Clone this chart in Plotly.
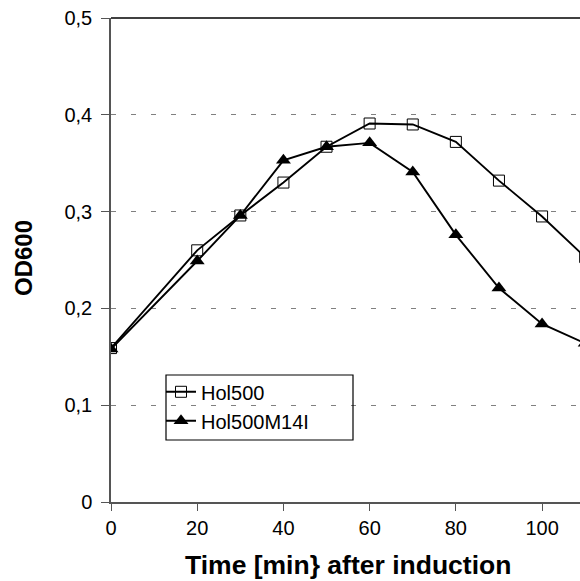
import plotly.graph_objects as go

time_min = [0, 20, 30, 40, 50, 60, 70, 80, 90, 100, 110]
hol500 = [0.159, 0.260, 0.296, 0.330, 0.367, 0.391, 0.390, 0.372, 0.332, 0.295, 0.253]
hol500m14i = [0.158, 0.249, 0.296, 0.353, 0.367, 0.371, 0.341, 0.276, 0.221, 0.184, 0.164]
names = ["Hol500", "Hol500M14I"]
x_ticks = [0, 20, 40, 60, 80, 100]
y_ticks = [0, 0.1, 0.2, 0.3, 0.4, 0.5]

FONT = "Arial, Liberation Sans, sans-serif"

fig = go.Figure()
fig.add_trace(go.Scatter(
    x=time_min, y=hol500, name=names[0], mode="lines+markers",
    line=dict(color="black", width=1.9),
    marker=dict(symbol="square-open", size=11, color="black", line=dict(width=1, color="black")),
))
fig.add_trace(go.Scatter(
    x=time_min, y=hol500m14i, name=names[1], mode="lines+markers",
    line=dict(color="black", width=1.9),
    marker=dict(symbol="triangle-up", size=13, color="black"),
))

fig.update_layout(
    width=580, height=581,
    margin=dict(l=111, r=0, t=18, b=79),
    plot_bgcolor="white", paper_bgcolor="white",
    separators=",.",
    font=dict(family=FONT, size=20, color="black"),
    showlegend=True,
    legend=dict(
        x=(161 - 111) / 469, y=0.268, xanchor="left", yanchor="top",
        bgcolor="rgba(0,0,0,0)", borderwidth=0,
        font=dict(family=FONT, size=20, color="black"),
        itemwidth=30, tracegroupgap=0,
    ),
    shapes=[
        dict(type="line", xref="paper", yref="paper", x0=0, x1=1, y0=1, y1=1,
             line=dict(color="black", width=1.5)),
        dict(type="rect", xref="paper", yref="paper",
             x0=(166 - 111) / 469, x1=(353 - 111) / 469,
             y0=(502 - 440) / 484, y1=(502 - 375) / 484,
             line=dict(color="black", width=1.2), fillcolor="rgba(0,0,0,0)"),
    ],
    annotations=[
        dict(text="<b>Time [min} after induction</b>", xref="paper", yref="paper",
             x=0.505, y=(502 - 565) / 484, xanchor="center", yanchor="middle",
             showarrow=False, font=dict(family=FONT, size=26.5, color="black")),
        dict(text="<b>OD600</b>", xref="paper", yref="paper",
             x=(23 - 111) / 469, y=(502 - 258) / 484, xanchor="center", yanchor="middle",
             textangle=-90, showarrow=False, font=dict(family=FONT, size=24, color="black")),
    ],
)

fig.update_xaxes(
    range=[0, 108.8], tickvals=x_ticks, ticks="outside", ticklen=7, tickwidth=1.2,
    tickcolor="#555555", showline=True, linecolor="#555555", linewidth=1.5,
    showgrid=False, zeroline=False, tickfont=dict(size=20),
)
fig.update_yaxes(
    range=[0, 0.5], tickvals=y_ticks, ticks="outside", ticklen=8, tickwidth=1.2,
    tickcolor="#555555", showline=True, linecolor="#555555", linewidth=1.5,
    showgrid=True, gridcolor="#808080", gridwidth=1.2, griddash="5px,15px",
    zeroline=False, tickfont=dict(size=20), ticklabelstandoff=5,
)

fig.write_html("out.html")
